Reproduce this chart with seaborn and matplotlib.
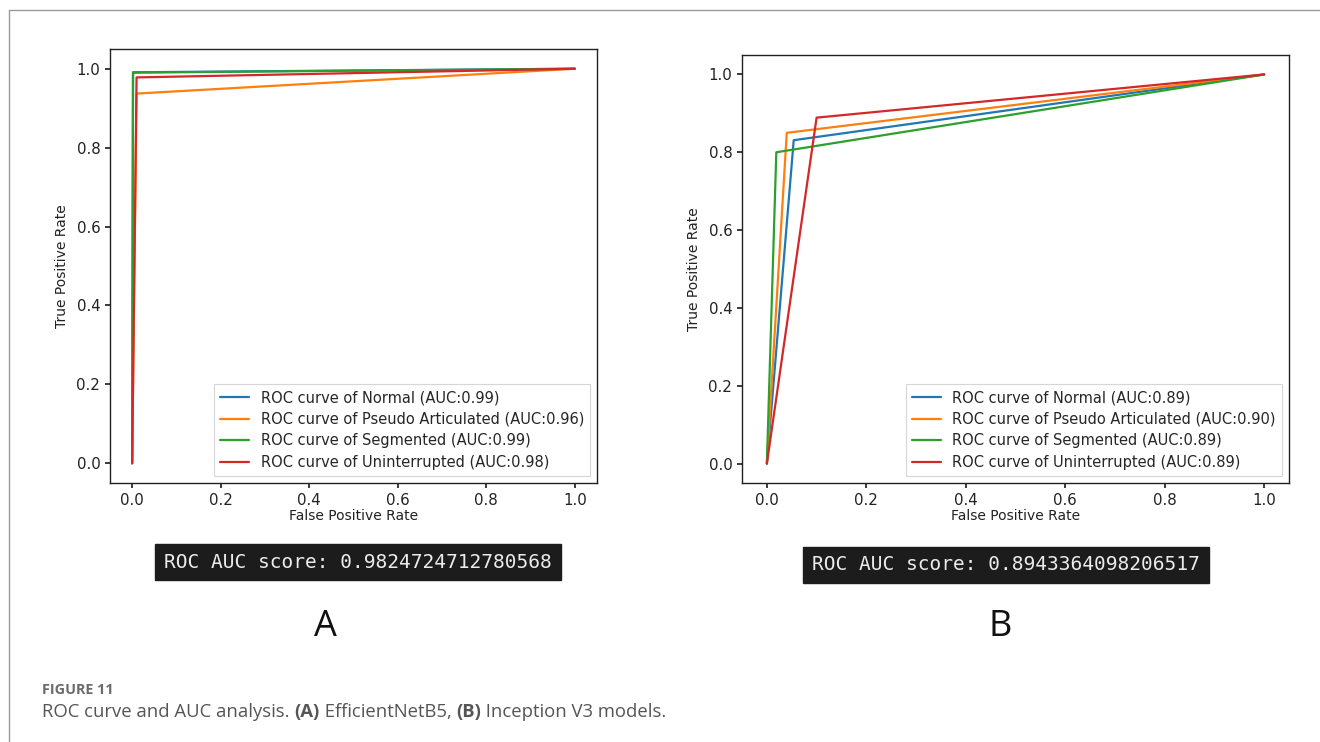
import numpy as np
import pandas as pd
import matplotlib
matplotlib.use("Agg")
import matplotlib.pyplot as plt
import seaborn as sns
from matplotlib.lines import Line2D

# ---------------- data ----------------
classes = ["Normal", "Pseudo Articulated", "Segmented", "Uninterrupted"]

# Panel A (EfficientNetB5)
a_auc = ["0.99", "0.96", "0.99", "0.98"]
a_fpr = {
    "Normal": [0.0, 0.002, 1.0],
    "Pseudo Articulated": [0.0, 0.010, 1.0],
    "Segmented": [0.0, 0.002, 1.0],
    "Uninterrupted": [0.0, 0.010, 1.0],
}
a_tpr = {
    "Normal": [0.0, 0.991, 1.0],
    "Pseudo Articulated": [0.0, 0.937, 1.0],
    "Segmented": [0.0, 0.990, 1.0],
    "Uninterrupted": [0.0, 0.978, 1.0],
}
a_score = "ROC AUC score: 0.9824724712780568"

# Panel B (Inception V3)
b_auc = ["0.89", "0.90", "0.89", "0.89"]
b_fpr = {
    "Normal": [0.0, 0.054, 1.0],
    "Pseudo Articulated": [0.0, 0.040, 1.0],
    "Segmented": [0.0, 0.019, 1.0],
    "Uninterrupted": [0.0, 0.100, 1.0],
}
b_tpr = {
    "Normal": [0.0, 0.831, 1.0],
    "Pseudo Articulated": [0.0, 0.850, 1.0],
    "Segmented": [0.0, 0.800, 1.0],
    "Uninterrupted": [0.0, 0.889, 1.0],
}
b_score = "ROC AUC score: 0.8943364098206517"

panel_letters = ["A", "B"]
fig_label = "FIGURE 11"
caption_parts = [("ROC curve and AUC analysis. ", "normal"), ("(A)", "bold"),
                 (" EfficientNetB5, ", "normal"), ("(B)", "bold"),
                 (" Inception V3 models.", "normal")]

# ---------------- style ----------------
sns.set_theme(style="ticks")
plt.rcParams["font.family"] = ["DejaVu Sans"]
plt.rcParams.update({
    "axes.edgecolor": "#222222",
    "axes.linewidth": 1.0,
    "xtick.color": "#222222",
    "ytick.color": "#222222",
    "xtick.labelcolor": "#222222",
    "ytick.labelcolor": "#222222",
    "axes.labelcolor": "#222222",
    "xtick.major.size": 3.5,
    "ytick.major.size": 3.5,
})
palette = ["#1f77b4", "#ff7f0e", "#2ca02c", "#d62728"]

fig = plt.figure(figsize=(13.2, 7.42), dpi=100)
W, H = 1320, 742

def frac_box(l, t, r, b):
    return [l / W, 1 - b / H, (r - l) / W, (b - t) / H]

axA = fig.add_axes(frac_box(110, 49, 597, 483))
axB = fig.add_axes(frac_box(742, 55, 1289, 483))

def draw(ax, fpr, tpr, aucs):
    rows = []
    for c, auc in zip(classes, aucs):
        lab = f"ROC curve of {c} (AUC:{auc})"
        for x, y in zip(fpr[c], tpr[c]):
            rows.append({"fpr": x, "tpr": y, "label": lab})
    df = pd.DataFrame(rows)
    sns.lineplot(data=df, x="fpr", y="tpr", hue="label", palette=palette,
                 sort=False, estimator=None, ax=ax, linewidth=1.6)
    ax.set_xlim(-0.05, 1.05)
    ax.set_ylim(-0.05, 1.05)
    ax.set_xticks(np.arange(0, 1.01, 0.2))
    ax.set_yticks(np.arange(0, 1.01, 0.2))
    ax.tick_params(labelsize=10.8)
    ax.set_xlabel("False Positive Rate", fontsize=10, labelpad=1)
    ax.set_ylabel("True Positive Rate", fontsize=10, labelpad=5)
    leg = ax.legend(loc="lower right", fontsize=10.5, frameon=True,
                    fancybox=False, edgecolor="#cccccc", handlelength=2.0,
                    labelspacing=0.45, borderpad=0.4)
    leg.get_frame().set_linewidth(0.8)
    for s in ax.spines.values():
        s.set_visible(True)

draw(axA, a_fpr, a_tpr, a_auc)
draw(axB, b_fpr, b_tpr, b_auc)

# score boxes
for txt, cx, cy in [(a_score, 358, 562), (b_score, 1006, 565)]:
    fig.text(cx / W, 1 - cy / H, txt, ha="center", va="center",
             family="DejaVu Sans Mono", fontsize=14, color="#ececec",
             bbox=dict(boxstyle="square,pad=0.45", fc="#1c1c1c", ec="#1c1c1c"))

# panel letters
for letter, cx in zip(panel_letters, [325, 1000]):
    fig.text(cx / W, 1 - 627 / H, letter, ha="center", va="center",
             family="Open Sans", fontsize=26, color="#111111")

# frame lines (top and left)
fig.add_artist(Line2D([9 / W, 1.0], [1 - 10 / H, 1 - 10 / H], color="#9a9a9a", lw=1.0))
fig.add_artist(Line2D([9 / W, 9 / W], [1 - 10 / H, 0.0], color="#9a9a9a", lw=1.0))

# caption
fig.text(42 / W, 1 - 690 / H, fig_label, ha="left", va="center",
         family="Open Sans", fontsize=10.4, fontweight="bold", color="#6b6b6b")

fig.canvas.draw()
renderer = fig.canvas.get_renderer()
x = 42
for part, weight in caption_parts:
    t = fig.text(x / W, 1 - 712 / H, part, ha="left", va="center",
                 family="Open Sans", fontsize=13.3, fontweight=weight,
                 color="#555555")
    bb = t.get_window_extent(renderer=renderer)
    x += bb.width

fig.savefig("out.png", dpi=100)
